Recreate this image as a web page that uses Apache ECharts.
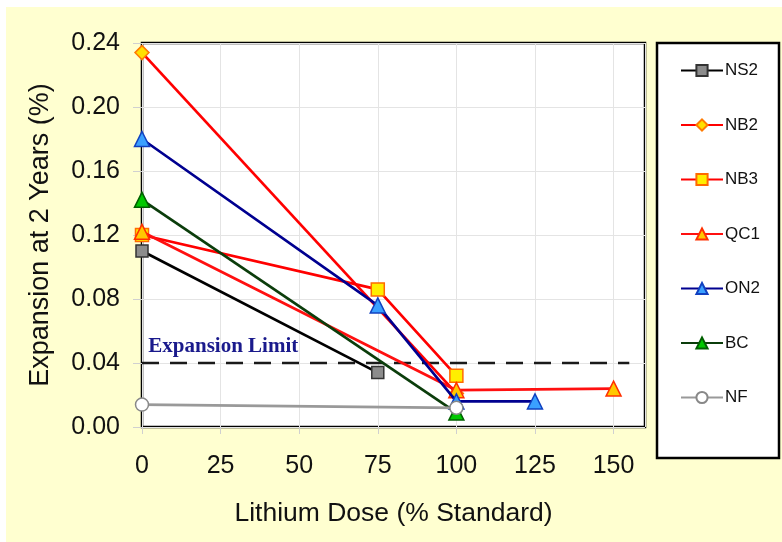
<!DOCTYPE html>
<html>
<head>
<meta charset="utf-8">
<script src="https://cdn.jsdelivr.net/npm/echarts@6/dist/echarts.min.js"></script>
<style>
html,body{margin:0;padding:0;background:#fff;}
#chart{width:782px;height:542px;}
</style>
</head>
<body>
<div id="chart"></div>
<script>
// ---- data ----
const seriesNames = ['NS2', 'NB2', 'NB3', 'QC1', 'ON2', 'BC', 'NF'];
const xNS2 = [0, 75];          const yNS2 = [0.110, 0.034];
const xNB2 = [0, 100];         const yNB2 = [0.234, 0.021];
const xNB3 = [0, 75, 100];     const yNB3 = [0.120, 0.086, 0.032];
const xQC1 = [0, 100, 150];    const yQC1 = [0.122, 0.023, 0.024];
const xON2 = [0, 75, 100, 125];const yON2 = [0.180, 0.076, 0.016, 0.016];
const xBC  = [0, 100];         const yBC  = [0.142, 0.009];
const xNF  = [0, 100];         const yNF  = [0.014, 0.012];
const limitX = [0, 155];       const limitValue = 0.04;
const limitLabel = 'Expansion Limit';
const xTitle = 'Lithium Dose (% Standard)';
const yTitle = 'Expansion at 2 Years (%)';

const pairs = (xs, ys) => xs.map((x, i) => [x, ys[i]]);

const styles = {
  NS2: {line: '#000000', fill: '#8c8c8c', border: '#333333', symbol: 'rect', size: 12},
  NB2: {line: '#ff0000', fill: '#ffe000', border: '#ff7a00', symbol: 'diamond', size: 14},
  NB3: {line: '#ff0000', fill: '#ffee00', border: '#ff6a00', symbol: 'rect', size: 13},
  QC1: {line: '#ff1010', fill: '#ffc800', border: '#ff3000', symbol: 'triangle', size: 15},
  ON2: {line: '#000090', fill: '#3aa0ff', border: '#1040c0', symbol: 'triangle', size: 15},
  BC:  {line: '#0b3d0b', fill: '#00c800', border: '#006000', symbol: 'triangle', size: 15},
  NF:  {line: '#999999', fill: '#ffffff', border: '#888888', symbol: 'circle', size: 13}
};
const dataMap = {
  NS2: pairs(xNS2, yNS2), NB2: pairs(xNB2, yNB2), NB3: pairs(xNB3, yNB3),
  QC1: pairs(xQC1, yQC1), ON2: pairs(xON2, yON2), BC: pairs(xBC, yBC), NF: pairs(xNF, yNF)
};

const series = seriesNames.map((n, i) => ({
  name: n, type: 'line', data: dataMap[n], z: 3 + i,
  symbol: styles[n].symbol, symbolSize: styles[n].size,
  showAllSymbol: true,
  lineStyle: {color: styles[n].line, width: 2.7},
  itemStyle: {color: styles[n].fill, borderColor: styles[n].border, borderWidth: 1.5},
  emphasis: {disabled: true},
  animation: false
}));
series.unshift({
  name: 'limit', type: 'line', silent: true, symbol: 'none', z: 2,
  data: limitX.map(x => [x, limitValue]),
  lineStyle: {color: '#1a1a1a', width: 2.7, type: [17, 11]},
  animation: false
});

const chart = echarts.init(document.getElementById('chart'), null, {renderer: 'canvas'});
const FONT = 'Liberation Sans, Arial, sans-serif';
const bgRects = [
  {type: 'rect', z: -10, silent: true, shape: {x: 6, y: 7, width: 776, height: 535}, style: {fill: '#ffffd0'}},
  {type: 'rect', z: 1, silent: true, shape: {x: 657, y: 43, width: 122, height: 415}, style: {fill: '#ffffff', stroke: '#000000', lineWidth: 2.5}}
];
const option = {
  animation: false,
  backgroundColor: '#ffffff',
  graphic: bgRects,
  grid: {left: 142, top: 43, right: 137, bottom: 115, show: true, backgroundColor: '#ffffff', borderColor: '#000000', borderWidth: 2.5, z: 0},
  legend: {
    data: seriesNames, orient: 'vertical', left: 680, top: 62,
    itemWidth: 42, itemHeight: 14, itemGap: 37.5, padding: 0,
    textStyle: {fontFamily: FONT, fontSize: 17, color: '#111', padding: [0, 0, 0, -3]},
    selectedMode: false, z: 5
  },
  xAxis: {
    type: 'value', min: 0, max: 160, interval: 25,
    name: xTitle, nameLocation: 'middle', nameGap: 73,
    nameTextStyle: {fontFamily: FONT, fontSize: 26.5, color: '#111'},
    axisLine: {show: false},
    axisTick: {show: true, inside: false, length: 7, lineStyle: {color: '#d0d0d0'}},
    axisLabel: {fontFamily: FONT, fontSize: 25, color: '#111', margin: 27, showMaxLabel: false},
    splitLine: {show: true, lineStyle: {color: '#e4e4e4', width: 1}}
  },
  yAxis: {
    type: 'value', min: 0, max: 0.24, interval: 0.04,
    name: yTitle, nameLocation: 'middle', nameGap: 88,
    nameTextStyle: {fontFamily: FONT, fontSize: 27, color: '#111'},
    axisLine: {show: false},
    axisTick: {show: true, inside: false, length: 9, lineStyle: {color: '#d0d0d0'}},
    axisLabel: {fontFamily: FONT, fontSize: 25, color: '#111', margin: 22, formatter: v => v.toFixed(2)},
    splitLine: {show: true, lineStyle: {color: '#e4e4e4', width: 1}}
  },
  series: series
};
chart.setOption(option);
const p = chart.convertToPixel({gridIndex: 0}, [2, limitValue]);
chart.setOption({graphic: bgRects.concat([
  {type: 'text', z: 10, silent: true, x: p[0], y: p[1] - 6,
   style: {text: limitLabel, fill: '#1a1a8c', font: 'bold 21px "Liberation Serif", "Times New Roman", serif', textVerticalAlign: 'bottom'}}
])});
</script>
</body>
</html>
